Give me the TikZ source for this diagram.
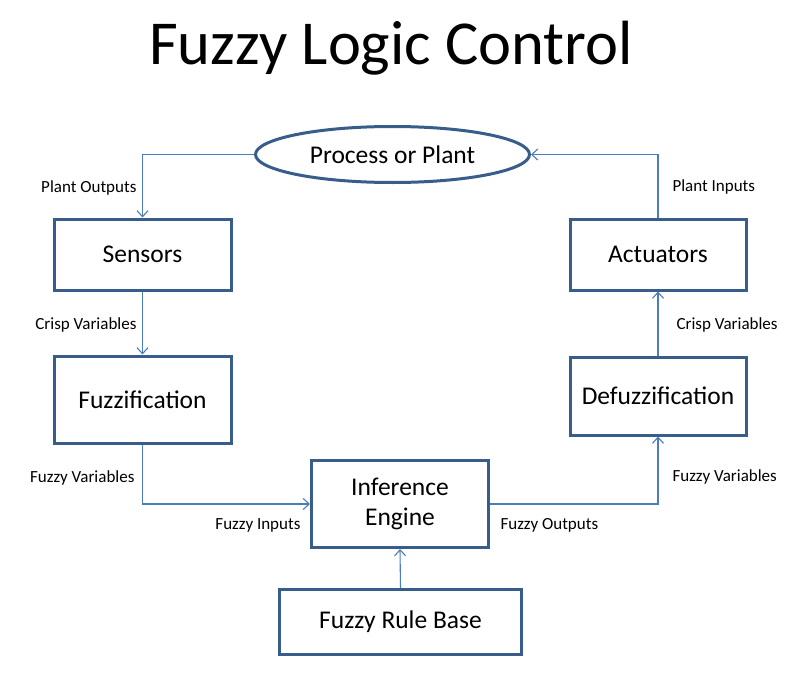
\documentclass[tikz,border=0pt]{standalone}
\usepackage{fontspec}
\setmainfont{Carlito}
\definecolor{BoxBlue} {RGB}{56,93,138}
\definecolor{LineBlue}{RGB}{74,126,187}
\usetikzlibrary{arrows.meta,shapes.geometric}

\begin{document}
\begin{tikzpicture}[x=1pt,y=-1pt,
    block/.style={draw=BoxBlue,line width=3pt,fill=white,align=center,
                  font=\fontsize{25.5}{30}\selectfont},
    link/.style={LineBlue,line width=1.1pt,
                 -{Straight Barb[length=6pt,width=11pt]}},
    tag/.style={font=\fontsize{17}{20}\selectfont}]
  \useasboundingbox[fill=white] (0,0) rectangle (806,693);
  % Title
  \node[font=\fontsize{62.5}{70}\selectfont] (title) at (391,48)
       {Fuzzy Logic Control};
  % Plant
  \node[block,ellipse,minimum width=274pt,minimum height=56pt,inner sep=0pt]
       (plant) at (392.5,154.5) {Process or Plant};
  % Left column
  \node[block,minimum width=177pt,minimum height=71pt] (sens) at (142.5,254.5)
       {Sensors};
  \node[block,minimum width=177pt,minimum height=87pt] (fuzz) at (142.5,399.5)
       {Fuzzification};
  % Right column
  \node[block,minimum width=176pt,minimum height=71pt] (act) at (658,254.5)
       {Actuators};
  \node[block,minimum width=176pt,minimum height=78pt] (defuzz) at (658,396)
       {Defuzzification};
  % Middle
  \node[block,minimum width=177pt,minimum height=87pt] (inf) at (400,504)
       {\raisebox{-3pt}{Inference}\\\raisebox{-3pt}{Engine}};
  \node[block,minimum width=242pt,minimum height=65pt] (rules) at (400.5,622)
       {Fuzzy Rule Base};
  % Connectors
  \draw[link] (plant.west) -| (sens.north);
  \draw[link] (sens.south) -- (fuzz.north);
  \draw[link] (fuzz.south) |- (inf.west);
  \draw[link] (inf.east) -| (defuzz.south);
  \draw[link] (defuzz.north) -- (act.south);
  \draw[link] (act.north) |- (plant.east);
  \draw[link] (rules.north) -- (inf.south);
  % Labels
  \node[tag,anchor=east] (lpo) at (140,188) {Plant Outputs};
  \node[tag,anchor=east] (lcv1) at (140,325) {Crisp Variables};
  \node[tag,anchor=east] (lfv1) at (138,478) {Fuzzy Variables};
  \node[tag,anchor=east] (lfi) at (304,525) {Fuzzy Inputs};
  \node[tag,anchor=west] (lfo) at (497,525) {Fuzzy Outputs};
  \node[tag,anchor=west] (lfv2) at (669,477) {Fuzzy Variables};
  \node[tag,anchor=west] (lcv2) at (673,325) {Crisp Variables};
  \node[tag,anchor=west] (lpi) at (669,187) {Plant Inputs};
\end{tikzpicture}
\end{document}
